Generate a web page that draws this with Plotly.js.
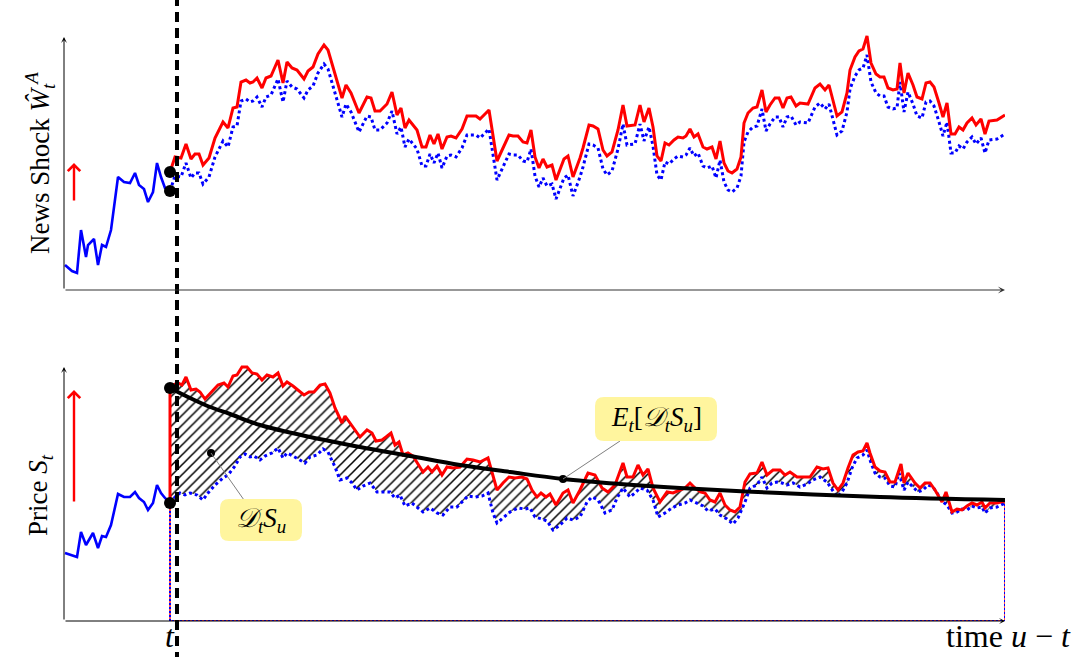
<!DOCTYPE html>
<html>
<head>
<meta charset="utf-8">
<script src="https://cdn.plot.ly/plotly-3.0.1.min.js"></script>
<style>
  html, body { margin: 0; padding: 0; background: #fff; }
  #chart { width: 1077px; height: 657px; }
</style>
</head>
<body>
<div id="chart"></div>
<script>
// Time axis: u - t (t = 0). Values are in arbitrary units.

// ---- News shock panel ----
const newsPreX = [-105,-98,-93,-89,-84,-82,-76,-72,-68,-64,-59,-52,-46,-40,-35,-31,-26,-22,-17,-13,-9,-5,0];
const newsPreY = [25,19,17,60,33,45,51,25,45,43,60,113,108,107,117,105,101,88,98,127,113,102,99];

const newsPostX = [0,5,11,16,21,25,29,33,39,45,
  53,58,63,67,71,76,80,83,87,92,
  96,101,108,113,117,122,127,134,138,143,
  148,154,158,172,176,181,189,197,201,205,
  210,217,222,227,231,235,239,247,252,256,
  260,264,268,272,277,281,286,292,297,306,
  310,319,327,333,339,343,348,353,357,361,
  365,369,373,377,382,386,394,398,403,410,
  413,419,423,428,433,437,442,448,453,457,
  465,470,474,479,483,487,491,495,499,504,
  508,513,516,520,524,528,533,537,542,546,
  550,554,558,562,567,571,574,578,583,587,
  592,596,600,605,609,613,617,621,626,630,
  638,645,650,655,659,667,672,677,680,685,
  689,693,697,701,706,710,714,718,723,727,
  730,734,738,743,747,752,756,760,764,769,
  773,777,781,785,789,793,797,802,806,811,
  815,819,827,835];

// with the news shock
const newsShockedY = [118,133,132,146,131,136,136,125,132,152,
  168,162,182,183,208,210,207,208,212,202,
  212,214,230,207,228,222,220,211,219,223,
  236,245,240,192,205,197,177,193,192,179,
  179,186,198,175,182,162,170,160,143,143,
  155,146,156,141,153,154,152,161,174,174,
  171,180,129,142,155,154,154,148,147,160,
  133,122,131,123,125,110,131,134,113,132,
  142,165,164,161,140,134,138,160,185,164,
  165,185,168,182,163,134,129,147,145,150,
  153,152,154,161,153,156,143,141,143,131,
  149,127,119,117,121,133,167,177,182,183,
  200,178,185,192,192,182,192,193,184,187,
  186,202,206,200,205,174,178,197,220,233,
  239,241,254,227,216,213,213,202,200,201,
  227,197,217,205,193,191,207,208,203,187,
  173,187,156,156,163,160,167,172,165,171,
  156,169,170,175];

// without the news shock
const newsBaseY = [99,114,113,127,112,117,117,106,113,133,
  149,143,163,164,189,191,188,189,193,183,
  193,195,211,188,209,203,201,192,200,204,
  217,226,221,173,186,178,158,174,173,160,
  160,167,179,156,163,143,151,141,124,124,
  136,127,137,122,134,135,133,142,155,155,
  152,161,110,123,136,135,135,129,128,141,
  114,103,112,104,106,91,112,115,94,113,
  123,146,145,142,121,115,119,141,166,145,
  146,166,149,163,144,115,110,128,126,131,
  134,133,135,142,134,137,124,122,124,112,
  130,108,100,98,102,114,148,158,163,164,
  181,159,166,173,173,163,173,174,165,168,
  167,183,187,181,186,155,159,178,201,214,
  220,222,235,208,197,194,194,183,181,182,
  208,178,198,186,174,172,188,189,184,168,
  154,168,137,137,144,141,148,153,146,152,
  137,150,151,156];

// ---- Price panel ----
const pricePreX = [-105,-93,-89,-84,-77,-72,-68,-64,-59,-52,-46,-40,-35,-31,-26,-22,-17,-13,-9,-5,0];
const pricePreY = [68,64,89,76,88,73,85,84,96,127,124,124,129,123,119,111,118,136,128,123,118];

const priceBaseX = [0,5,10,15,20,27,33,38,45,53,
  58,65,70,75,80,84,90,95,102,108,
  113,117,123,130,135,140,147,153,158,165,
  170,177,182,187,193,200,207,213,220,225,
  230,235,242,248,253,260,267,273,280,287,
  292,298,305,312,318,323,327,333,340,348,
  355,360,365,372,377,383,390,397,403,410,
  417,422,428,435,442,447,453,460,465,470,
  477,483,488,495,502,508,515,520,527,533,
  538,545,550,557,563,568,575,580,587,592,
  597,602,607,612,617,623,630,637,643,650,
  657,662,667,672,677,682,687,693,697,701,
  705,710,715,720,725,729,734,738,743,748,
  753,758,763,768,773,777,782,787,792,797,
  802,807,812,815,820,827,835];
const priceBaseY = [118,124,128,126,128,126,121,128,136,143,
  146,155,164,167,164,165,161,165,168,173,
  163,168,165,161,158,164,166,172,169,154,
  141,143,138,131,135,138,129,129,129,123,
  126,115,118,113,109,113,108,106,114,114,
  119,125,124,125,128,108,98,103,109,113,
  112,113,104,102,100,91,96,103,101,104,
  119,124,121,108,111,123,133,124,128,133,
  131,121,104,108,113,116,118,121,118,115,
  110,112,106,102,97,103,119,133,136,144,
  133,138,139,138,136,138,134,137,141,144,
  139,131,124,129,138,153,163,166,171,158,
  148,144,143,135,134,148,131,139,134,129,
  131,136,134,126,119,116,108,109,112,111,
  115,113,114,108,113,114,118];

const priceShockedX = [0,3,8,12,16,21,26,30,35,42,
  48,54,58,63,67,72,77,82,87,92,
  97,103,108,113,117,123,128,134,139,144,
  150,155,160,165,172,175,180,185,190,197,
  202,206,212,216,221,225,229,233,238,243,
  247,253,258,262,267,272,277,283,290,297,
  303,310,318,323,327,333,339,345,352,357,
  362,367,371,376,380,386,393,398,403,410,
  418,425,432,438,445,453,457,463,468,473,
  478,483,490,497,503,510,515,520,525,531,
  535,540,545,550,555,560,565,570,575,580,
  587,592,597,603,610,615,620,627,633,640,
  647,653,658,663,668,673,678,683,688,693,
  697,700,705,710,715,720,725,731,734,738,
  745,750,755,760,765,772,776,782,787,792,
  797,802,807,812,815,820,827,835];
const priceShockedY = [233,236,238,236,244,231,232,229,222,229,
  236,238,234,245,246,254,254,248,247,241,
  246,244,248,235,239,235,231,226,229,229,
  236,237,228,213,198,205,198,191,184,191,
  188,180,181,184,188,176,179,166,168,165,
  158,149,154,149,155,146,154,153,154,162,
  161,159,163,146,131,138,144,143,144,142,
  131,124,128,124,127,116,128,131,118,131,
  148,146,133,129,136,158,144,144,156,146,
  152,133,119,129,128,131,133,138,133,129,
  128,121,119,128,116,111,109,114,139,147,
  148,159,146,151,151,146,149,144,144,144,
  154,152,153,138,131,138,153,166,169,170,
  178,168,154,150,149,139,139,157,138,148,
  138,133,138,138,131,119,129,109,112,111,
  115,118,116,119,113,118,118,120];

// expected response E_t[D_t S_u]
const expectedX = [0,20,40,60,90,140,190,240,290,340,393,450,510,610,710,835];
const expectedY = [233,223,214,207,196,184,174,165,156,149,142,137,133,128,124,121];
const expectedLabelIndex = 10;

// anchor of the D_t S_u callout inside the shaded region
const responseAnchor = { x: 41, y: 168 };

const RED = '#ff0000';
const BLUE = '#0000ff';
const SERIF = 'Liberation Serif, DejaVu Serif, serif';
const X_RANGE = [-106, 835];
const last = a => a[a.length - 1];

const traces = [
  // news shock panel
  { x: newsPreX, y: newsPreY, xaxis: 'x', yaxis: 'y', mode: 'lines',
    line: { color: BLUE, width: 2.6 } },
  { x: newsPostX, y: newsBaseY, xaxis: 'x', yaxis: 'y', mode: 'lines',
    line: { color: BLUE, width: 3, dash: 'dot' } },
  { x: newsPostX, y: newsShockedY, xaxis: 'x', yaxis: 'y', mode: 'lines',
    line: { color: RED, width: 3 } },
  { x: [newsPostX[0], newsPostX[0]], y: [newsShockedY[0], newsBaseY[0]],
    xaxis: 'x', yaxis: 'y', mode: 'markers',
    marker: { color: '#000', size: 12 } },

  // price panel: level frame below the unshocked path
  { x: [priceBaseX[0], priceBaseX[0], last(priceBaseX), last(priceBaseX)],
    y: [priceBaseY[0], 0, 0, last(priceBaseY)],
    xaxis: 'x2', yaxis: 'y2', mode: 'lines',
    line: { color: RED, width: 1.4 } },
  { x: [priceBaseX[0], priceBaseX[0], last(priceBaseX), last(priceBaseX)],
    y: [priceBaseY[0], 0, 0, last(priceBaseY)],
    xaxis: 'x2', yaxis: 'y2', mode: 'lines',
    line: { color: BLUE, width: 2, dash: '2px,2px' } },
  { x: pricePreX, y: pricePreY, xaxis: 'x2', yaxis: 'y2', mode: 'lines',
    line: { color: BLUE, width: 2.6 } },
  { x: priceBaseX, y: priceBaseY, xaxis: 'x2', yaxis: 'y2', mode: 'lines',
    line: { color: BLUE, width: 3, dash: 'dot' } },
  { x: priceShockedX, y: priceShockedY, xaxis: 'x2', yaxis: 'y2', mode: 'lines',
    line: { color: RED, width: 3 },
    fill: 'tonexty', fillcolor: 'rgba(0,0,0,0)',
    fillpattern: { shape: '/', fgcolor: '#000', bgcolor: 'rgba(255,255,255,0)', size: 7, solidity: 0.22 } },
  // jump of the price at t
  { x: [priceShockedX[0], priceShockedX[0]], y: [priceBaseY[0], priceShockedY[0]],
    xaxis: 'x2', yaxis: 'y2', mode: 'lines',
    line: { color: RED, width: 3 } },
  { x: expectedX, y: expectedY, xaxis: 'x2', yaxis: 'y2', mode: 'lines',
    line: { color: '#000', width: 4, shape: 'spline', smoothing: 1 } },
  { x: [priceShockedX[0], priceBaseX[0]], y: [priceShockedY[0], priceBaseY[0]],
    xaxis: 'x2', yaxis: 'y2', mode: 'markers',
    marker: { color: '#000', size: 12 } },
  { x: [responseAnchor.x, expectedX[expectedLabelIndex]],
    y: [responseAnchor.y, expectedY[expectedLabelIndex]],
    xaxis: 'x2', yaxis: 'y2', mode: 'markers',
    marker: { color: '#000', size: 8 } }
];

// rounded label box, sized in pixels around an anchor in data space
function roundedBox(cx, cy, hw, hh, r) {
  const p = `M ${-hw + r},${-hh} L ${hw - r},${-hh} Q ${hw},${-hh} ${hw},${-hh + r} ` +
            `L ${hw},${hh - r} Q ${hw},${hh} ${hw - r},${hh} L ${-hw + r},${hh} ` +
            `Q ${-hw},${hh} ${-hw},${hh - r} L ${-hw},${-hh + r} Q ${-hw},${-hh} ${-hw + r},${-hh} Z`;
  return { type: 'path', xref: 'x2', yref: 'y2', xsizemode: 'pixel', ysizemode: 'pixel',
           xanchor: cx, yanchor: cy, path: p, fillcolor: '#fff59e',
           line: { width: 0 }, layer: 'above' };
}

const eBox = { x: 486, y: 202 };
const dBox = { x: 91, y: 101 };

const shapes = [
  // time of the news arrival
  { type: 'line', xref: 'paper', yref: 'paper', x0: 0.12008, x1: 0.12008, y0: -0.07, y1: 1.07,
    line: { color: '#000', width: 4, dash: '10px,6px' } },
  { type: 'line', xref: 'x2', yref: 'y2',
    x0: expectedX[expectedLabelIndex], y0: expectedY[expectedLabelIndex], x1: 450, y1: 180,
    line: { color: '#808080', width: 1 }, layer: 'above' },
  { type: 'line', xref: 'x2', yref: 'y2',
    x0: responseAnchor.x, y0: responseAnchor.y, x1: 74, y1: 121,
    line: { color: '#808080', width: 1 }, layer: 'above' },
  roundedBox(eBox.x, eBox.y, 61, 22, 9),
  roundedBox(dBox.x, dBox.y, 41, 21, 9)
];

function axisArrow(xr, yr, x, y, ax, ay, color, width, head) {
  return { xref: xr, yref: yr, axref: xr, ayref: yr, x: x, y: y, ax: ax, ay: ay,
           text: '', showarrow: true, arrowhead: head, arrowsize: 1,
           arrowwidth: width, arrowcolor: color };
}

const annotations = [
  // axes
  axisArrow('x', 'y', X_RANGE[1], 0, X_RANGE[0], 0, '#333', 1.2, 3),
  axisArrow('x', 'y', X_RANGE[0], 253, X_RANGE[0], 0, '#000', 1, 3),
  axisArrow('x2', 'y2', X_RANGE[1], 0, X_RANGE[0], 0, '#000', 1, 3),
  axisArrow('x2', 'y2', X_RANGE[0], 254, X_RANGE[0], 0, '#000', 1, 3),
  // upward shock arrows
  axisArrow('x', 'y', -96, 127, -96, 88, RED, 2.4, 4),
  axisArrow('x2', 'y2', -96, priceShockedY[0] - 2, -96, priceBaseY[0], RED, 2.4, 4),
  // axis titles
  { xref: 'paper', yref: 'paper', x: -0.0255, y: 0.7816, xanchor: 'center', yanchor: 'middle',
    textangle: -90, showarrow: false,
    text: 'News Shock <i>Ŵ</i><sub><i>t</i></sub><sup><i>A</i></sup>',
    font: { family: SERIF, size: 27, color: '#000' } },
  { xref: 'paper', yref: 'paper', x: -0.0255, y: 0.215, xanchor: 'center', yanchor: 'middle',
    textangle: -90, showarrow: false,
    text: 'Price <i>S</i><sub><i>t</i></sub>',
    font: { family: SERIF, size: 27, color: '#000' } },
  { xref: 'paper', yref: 'paper', x: 1.0722, y: -0.0597, xanchor: 'right', yanchor: 'bottom',
    showarrow: false, text: 'time <i>u</i> − <i>t</i>',
    font: { family: SERIF, size: 32, color: '#000' } },
  { xref: 'x2', yref: 'paper', x: 0, y: -0.0597, xanchor: 'center', yanchor: 'bottom',
    showarrow: false, text: '<i>t</i>',
    font: { family: SERIF, size: 32, color: '#000' } },
  // callout labels
  { xref: 'x2', yref: 'y2', x: eBox.x, y: eBox.y, showarrow: false,
    text: '<i>E</i><sub><i>t</i></sub>[<i>𝒟</i><sub><i>t</i></sub><i>S</i><sub><i>u</i></sub>]',
    font: { family: SERIF, size: 27, color: '#000' } },
  { xref: 'x2', yref: 'y2', x: dBox.x, y: dBox.y, showarrow: false,
    text: '<i>𝒟</i><sub><i>t</i></sub><i>S</i><sub><i>u</i></sub>',
    font: { family: SERIF, size: 27, color: '#000' } }
];

const hiddenAxis = { showline: false, showgrid: false, zeroline: false,
                     showticklabels: false, ticks: '', fixedrange: true };

const layout = {
  width: 1077, height: 657,
  margin: { l: 64, r: 72, t: 35, b: 36 },
  paper_bgcolor: '#fff', plot_bgcolor: 'rgba(0,0,0,0)',
  showlegend: false,
  xaxis: Object.assign({}, hiddenAxis, { range: X_RANGE, domain: [0, 1], anchor: 'y' }),
  yaxis: Object.assign({}, hiddenAxis, { range: [0, 255], domain: [0.56485, 1], anchor: 'x' }),
  xaxis2: Object.assign({}, hiddenAxis, { range: X_RANGE, domain: [0, 1], anchor: 'y2' }),
  yaxis2: Object.assign({}, hiddenAxis, { range: [0, 256], domain: [0, 0.43686], anchor: 'x2' }),
  shapes: shapes,
  annotations: annotations
};

Plotly.newPlot('chart', traces, layout, { displayModeBar: false, staticPlot: true });
</script>
</body>
</html>
